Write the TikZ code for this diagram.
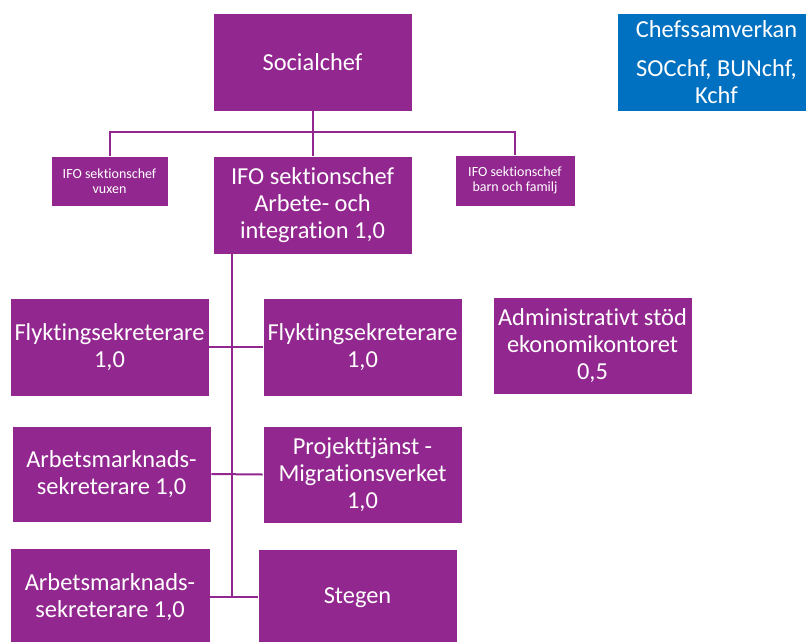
\documentclass[tikz,border=0pt]{standalone}
\usepackage{fontspec}
\setmainfont{Carlito}[Ligatures=NoCommon]
\definecolor{orgpurple}{HTML}{92278F}
\definecolor{orgblue}{HTML}{0070C0}
\begin{document}
\begin{tikzpicture}[x=1pt,y=-1pt,
  box/.style={fill=orgpurple, draw=white, line width=0.6pt, text=white, align=center,
    inner sep=0pt, minimum width=199pt, minimum height=98pt,
    font=\fontsize{24.4}{27}\selectfont},
  smallbox/.style={box, minimum width=117pt, minimum height=50pt,
    font=\fontsize{14}{15.5}\selectfont},
  bluebox/.style={box, fill=orgblue},
  conn/.style={draw=orgpurple, line width=2pt}]
\useasboundingbox (0,0) rectangle (806,641);
\fill[white] (0,0) rectangle (806,641);
\clip (0,0) rectangle (806,641);

\node[box] (soc) at (312.5,62) {Socialchef};
\node[smallbox] (vux) at (109.5,181) {IFO sektionschef\\vuxen};
\node[box] (ifo) at (312.5,205) {IFO sektionschef\\Arbete- och\\integration 1,0};
\node[smallbox, minimum width=120pt, minimum height=51pt] (barn) at (515,180.5) {IFO sektionschef\\barn och familj};
\node[bluebox] (chefs) at (716.5,62) {Chefssamverkan\\[12pt]SOCchf, BUNchf,\\Kchf};

\node[box] (fl1) at (109.5,347) {Flyktingsekreterare\\1,0};
\node[box] (fl2) at (362.5,347) {Flyktingsekreterare\\1,0};
\node[box, minimum height=97pt] (adm) at (592.5,345.5) {Administrativt stöd\\ekonomikontoret\\0,5};
\node[box, minimum height=96pt] (am1) at (111.5,474) {Arbetsmarknads-\\sekreterare 1,0};
\node[box, minimum height=97pt] (proj) at (362.5,474.5) {Projekttjänst -\\Migrationsverket\\1,0};
\node[box, minimum width=200pt] (am2) at (110,597) {Arbetsmarknads-\\sekreterare 1,0};
\node[box] (steg) at (357.5,598) {Stegen};

\coordinate (hl) at (312.5,132);
\coordinate (tt) at (232,598);

\draw[conn] (soc.south) -- (ifo.north);
\draw[conn] (vux.north) |- (hl) -| (barn.north);
\draw[conn] (ifo.south -| tt) -- (tt);
\draw[conn] (fl1.east) -- (fl2.west);
\draw[conn] (am1.east) -- (proj.west);
\draw[conn] (am2.east) -- (am2.east -| steg.west);
\end{tikzpicture}
\end{document}
